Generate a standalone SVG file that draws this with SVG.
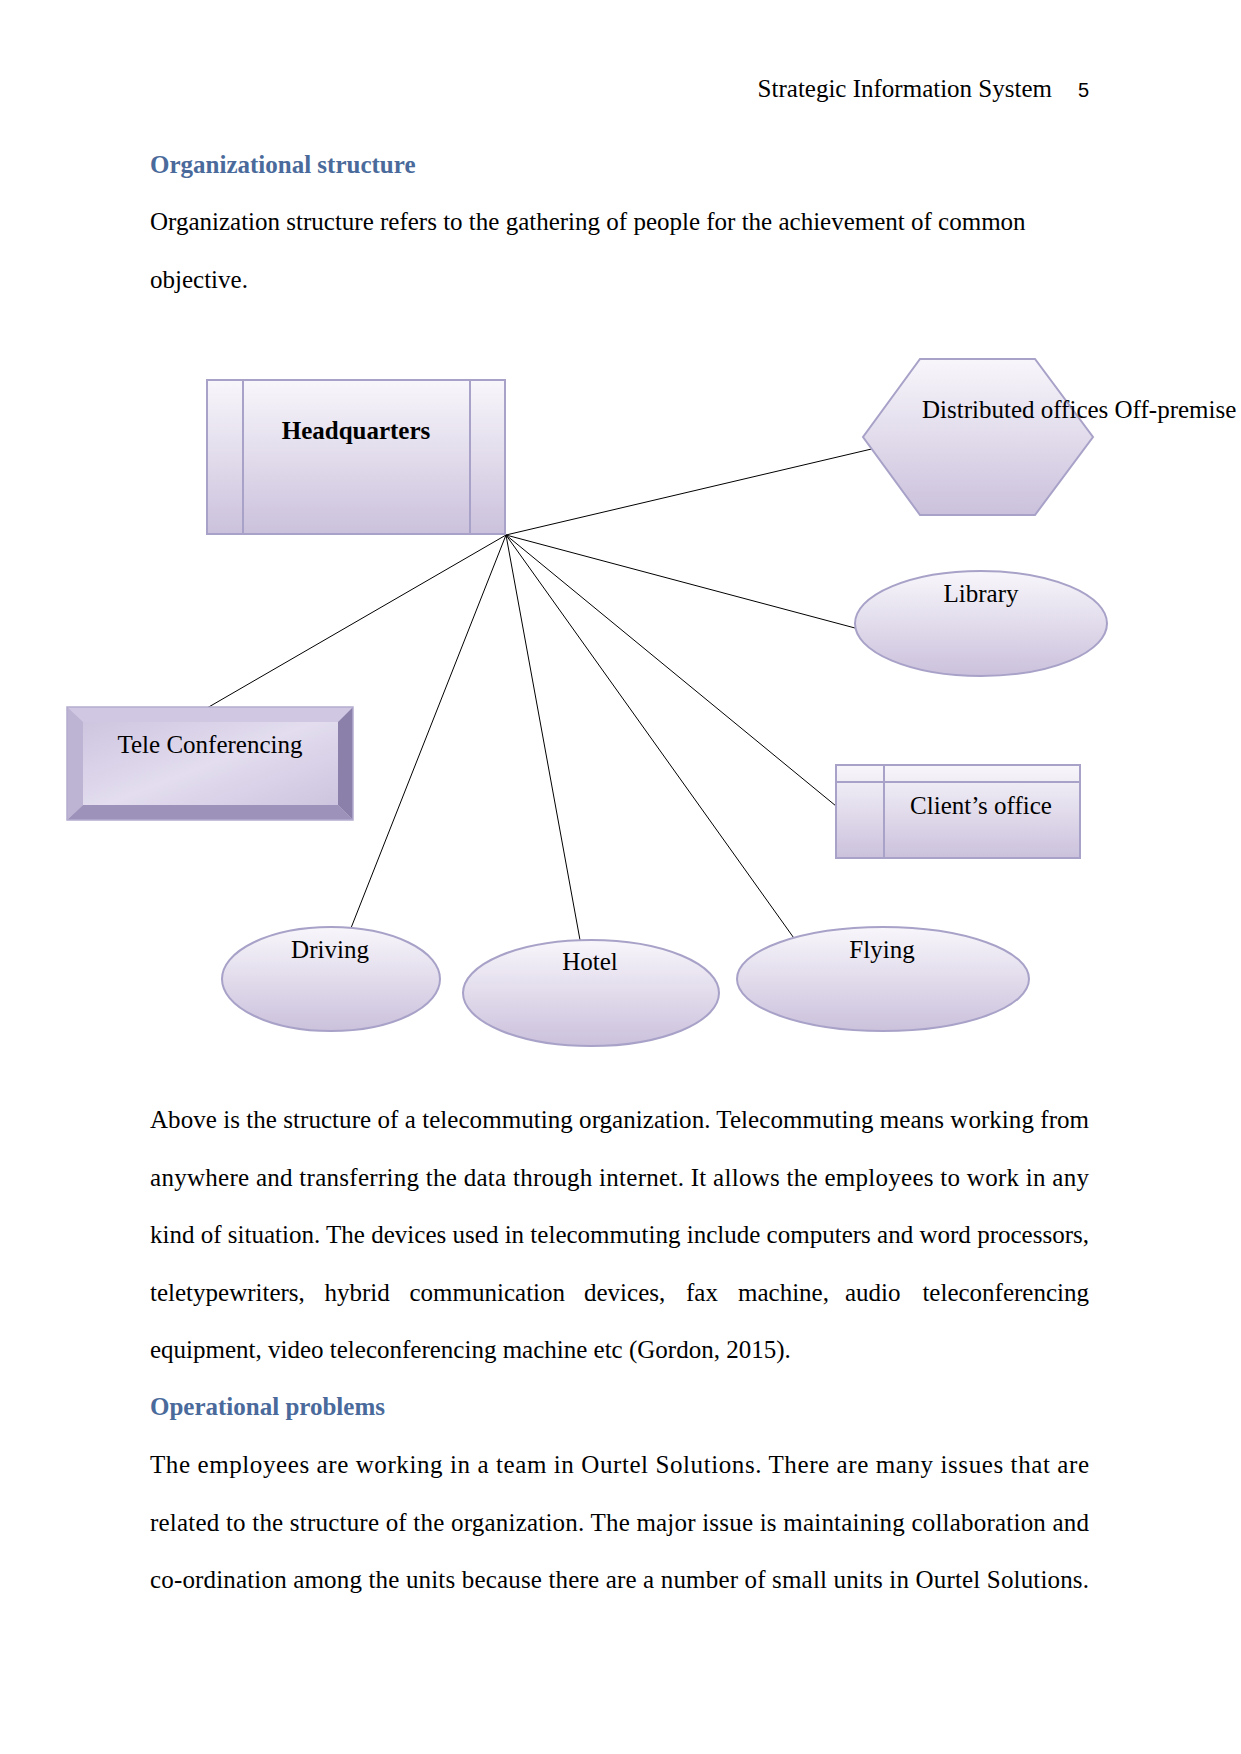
<svg xmlns="http://www.w3.org/2000/svg" width="1241" height="1754" viewBox="0 0 1241 1754">
<defs>
<linearGradient id="g" x1="0" y1="0" x2="0" y2="1">
<stop offset="0" stop-color="#f8f6fb"/>
<stop offset="1" stop-color="#cbc1dc"/>
</linearGradient>
<linearGradient id="face" x1="0" y1="0" x2="1" y2="1">
<stop offset="0" stop-color="#c9bfdc"/>
<stop offset="0.5" stop-color="#e3ddef"/>
<stop offset="1" stop-color="#c8bedb"/>
</linearGradient>
<style>
.t{font-family:"Liberation Serif","Times New Roman",serif;font-size:25px;fill:#000}
.h{font-family:"Liberation Serif","Times New Roman",serif;font-size:25px;font-weight:bold;fill:#4a6a9b}
.n{font-family:"Liberation Serif","Times New Roman",serif;font-size:25px;fill:#000;text-anchor:middle}
.shape{fill:url(#g);stroke:#a8a2c8;stroke-width:2}
.ln{stroke:#a8a2c8;stroke-width:2;fill:none}
.c{stroke:#000;stroke-width:1;fill:none}
</style>
</defs>
<rect width="1241" height="1754" fill="#fff"/>

<text class="t" x="1052" y="97" text-anchor="end">Strategic Information System</text>
<text x="1089" y="97" text-anchor="end" style="font-family:'Liberation Sans',Arial,sans-serif;font-size:20px">5</text>

<text class="h" x="150" y="173">Organizational structure</text>
<text class="t" x="150" y="230">Organization structure refers to the gathering of people for the achievement of common</text>
<text class="t" x="150" y="288">objective.</text>

<g id="connectors">
<line class="c" x1="506" y1="535" x2="880" y2="447"/>
<line class="c" x1="506" y1="535" x2="855" y2="628"/>
<line class="c" x1="506" y1="535" x2="836" y2="806"/>
<line class="c" x1="506" y1="535" x2="207" y2="708"/>
<line class="c" x1="506" y1="535" x2="351" y2="928"/>
<line class="c" x1="506" y1="535" x2="580" y2="940"/>
<line class="c" x1="506" y1="535" x2="796" y2="941"/>
</g>

<g id="headquarters">
<rect class="shape" x="207" y="380" width="298" height="154"/>
<line class="ln" x1="243" y1="380" x2="243" y2="534"/>
<line class="ln" x1="470" y1="380" x2="470" y2="534"/>
<text class="n" x="356" y="439" font-weight="bold">Headquarters</text>
</g>

<g id="distributed">
<polygon class="shape" points="920,359 1035,359 1093,437 1035,515 920,515 863,437"/>
<text class="t" x="922" y="418">Distributed offices Off-premise</text>
</g>

<g id="library">
<ellipse class="shape" cx="981" cy="623.5" rx="126" ry="52.5"/>
<text class="n" x="981" y="602">Library</text>
</g>

<g id="tele">
<rect x="67" y="707" width="286" height="113" fill="url(#face)"/>
<polygon points="67,707 353,707 338,722 83,722" fill="#d0c8e2"/>
<polygon points="67,707 83,722 83,805 67,820" fill="#bdb3d3"/>
<polygon points="353,707 353,820 338,805 338,722" fill="#8a80aa"/>
<polygon points="67,820 83,805 338,805 353,820" fill="#9d93ba"/>
<rect x="67" y="707" width="286" height="113" fill="none" stroke="#b4acd0" stroke-width="1.5"/>
<text class="n" x="210" y="753">Tele Conferencing</text>
</g>

<g id="client">
<rect class="shape" x="836" y="765" width="244" height="93"/>
<line class="ln" x1="884" y1="765" x2="884" y2="858"/>
<line class="ln" x1="836" y1="782" x2="1080" y2="782"/>
<text class="n" x="981" y="814">Client’s office</text>
</g>

<g id="driving">
<ellipse class="shape" cx="331" cy="979" rx="109" ry="52"/>
<text class="n" x="330" y="958">Driving</text>
</g>

<g id="hotel">
<ellipse class="shape" cx="591" cy="993" rx="128" ry="53"/>
<text class="n" x="590" y="970">Hotel</text>
</g>

<g id="flying">
<ellipse class="shape" cx="883" cy="979" rx="146" ry="52"/>
<text class="n" x="882" y="958">Flying</text>
</g>

<text class="t" x="150" y="1128" textLength="939" lengthAdjust="spacing">Above is the structure of a telecommuting organization. Telecommuting means working from</text>
<text class="t" x="150" y="1186" textLength="939" lengthAdjust="spacing">anywhere and transferring the data through internet. It allows the employees to work in any</text>
<text class="t" x="150" y="1243" textLength="939" lengthAdjust="spacing">kind of situation. The devices used in telecommuting include computers and word processors,</text>
<text class="t" y="1301"><tspan x="150">teletypewriters,</tspan><tspan x="324.5">hybrid</tspan><tspan x="409.5">communication</tspan><tspan x="584">devices,</tspan><tspan x="686">fax</tspan><tspan x="738">machine,</tspan><tspan x="845">audio</tspan></text>
<text class="t" x="1089" y="1301" text-anchor="end">teleconferencing</text>
<text class="t" x="150" y="1358">equipment, video teleconferencing machine etc (Gordon, 2015).</text>
<text class="h" x="150" y="1415">Operational problems</text>
<text class="t" x="150" y="1473" textLength="939" lengthAdjust="spacing">The employees are working in a team in Ourtel Solutions. There are many issues that are</text>
<text class="t" x="150" y="1531" textLength="939" lengthAdjust="spacing">related to the structure of the organization. The major issue is maintaining collaboration and</text>
<text class="t" x="150" y="1588" textLength="939" lengthAdjust="spacing">co-ordination among the units because there are a number of small units in Ourtel Solutions.</text>
</svg>
